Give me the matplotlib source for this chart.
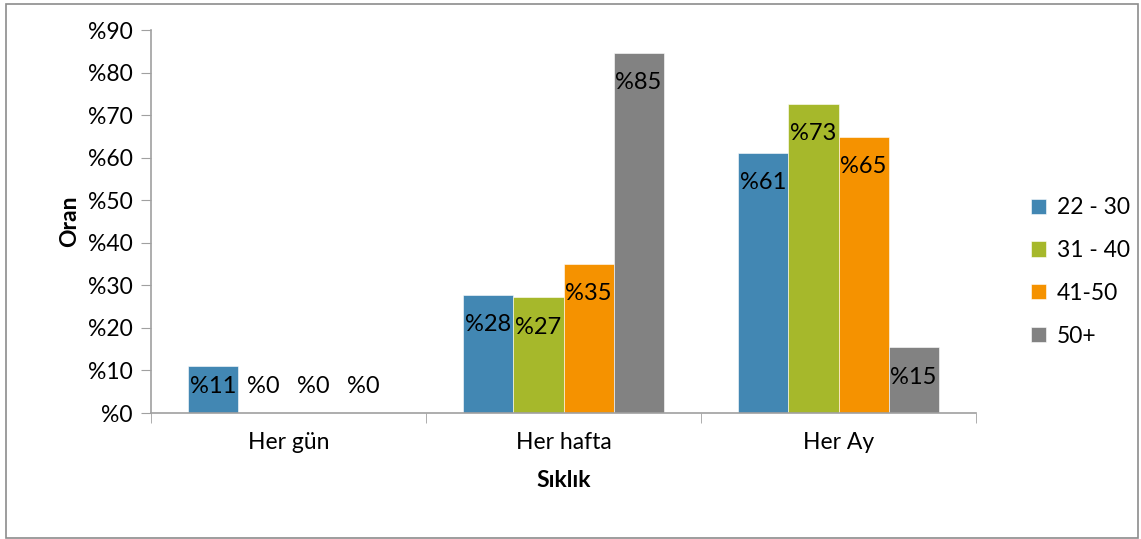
import numpy as np
import matplotlib.pyplot as plt
from matplotlib.patches import Rectangle

plt.rcParams['font.family'] = ['Lato', 'DejaVu Sans']

categories = ['Her gün', 'Her hafta', 'Her Ay']
groups = ['22 - 30', '31 - 40', '41-50', '50+']
values = {
    '22 - 30': [11.0, 27.7, 61.2],
    '31 - 40': [0.0, 27.2, 72.6],
    '41-50': [0.0, 35.0, 64.9],
    '50+': [0.0, 84.6, 15.4],
}
colors = ['#4287B3', '#A6B82B', '#F59200', '#828282']

fig = plt.figure(figsize=(11.41, 5.39), dpi=100)
ax = fig.add_axes([151/1141, 1 - 413/539, (976 - 151)/1141, (413 - 30)/539])

# outer frame around the whole chart
fig.patches.append(Rectangle((6/1141, 1/539), 1132/1141, 534/539, transform=fig.transFigure,
                             fill=False, edgecolor='#8C8C8C', linewidth=1.2))

x = np.arange(len(categories))
w = 0.182
for i, (g, c) in enumerate(zip(groups, colors)):
    pos = x + (i - 1.5) * w
    vals = values[g]
    ax.bar(pos, vals, width=w, color=c, edgecolor='white', linewidth=0.4, label=g)
    for xp, v in zip(pos, vals):
        ax.text(xp, max(v - 7.0, 6.2), '%' + str(int(round(v))), ha='center', va='center',
                fontsize=17, color='black')

ax.set_xlim(-0.5, 2.5)
ax.set_ylim(0, 90)
ax.set_yticks(np.arange(0, 91, 10))
ax.set_yticklabels(['%' + str(t) for t in range(0, 91, 10)], fontsize=16.5)
ax.set_xticks(x)
ax.set_xticklabels(categories, fontsize=16.5)
ax.set_xticks([-0.5, 0.5, 1.5, 2.5], minor=True)
ax.tick_params(axis='x', which='major', length=0, pad=14)
ax.tick_params(axis='x', which='minor', length=7, color='#A0A0A0')
ax.tick_params(axis='y', length=7, color='#A0A0A0', pad=6)

for s in ['top', 'right']:
    ax.spines[s].set_visible(False)
for s in ['left', 'bottom']:
    ax.spines[s].set_color('#A0A0A0')
    ax.spines[s].set_linewidth(1.2)

ax.set_ylabel('Oran', fontsize=16.5, fontweight='bold', labelpad=6)
ax.set_xlabel('Sıklık', fontsize=16.5, fontweight='bold', labelpad=12)

fig.legend(loc='center left', bbox_to_anchor=(1010/1141, 267/539), frameon=False,
           fontsize=16.5, handlelength=0.65, handleheight=0.65, handletextpad=0.5,
           labelspacing=0.95)

fig.savefig('out.png', dpi=100)
